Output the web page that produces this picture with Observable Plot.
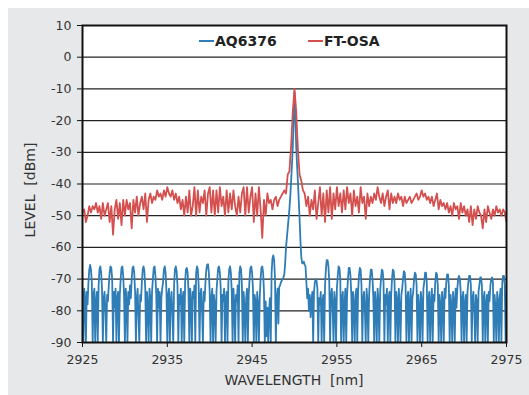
<!DOCTYPE html>
<html>
<head>
<meta charset="utf-8">
<script src="https://cdn.jsdelivr.net/npm/d3@7"></script>
<script src="https://cdn.jsdelivr.net/npm/@observablehq/plot@0.6"></script>
<style>
  html, body { margin: 0; padding: 0; background: #ffffff; }
  #wrap { position: relative; width: 529px; height: 395px; overflow: hidden; font-family: "DejaVu Sans", Verdana, sans-serif; }
  #panel { position: absolute; left: 8px; top: 8px; width: 521px; height: 387px; background: #e7e8ea; }
  #chart { position: absolute; left: 0; top: 0; }
  .legend { position: absolute; top: 33px; font-weight: bold; font-size: 14px; color: #222; white-space: nowrap; line-height: 16px; }
  .legend .sw { display: inline-block; width: 15px; height: 0; border-top: 2px solid; vertical-align: middle; margin-right: 1px; position: relative; top: -1px; }
  .ytitle { position: absolute; left: 30px; top: 190px; transform: translate(-50%, -50%) rotate(-90deg); font-size: 14px; color: #333; white-space: pre; }
  .xtitle { position: absolute; left: 294px; top: 380px; transform: translate(-50%, -50%); font-size: 14px; color: #333; white-space: pre; }
</style>
</head>
<body>
<div id="wrap">
  <div id="panel"></div>
  <div id="chart"></div>
  <div class="legend" style="left:199px"><span class="sw" style="border-color:#2f7db6"></span>AQ6376</div>
  <div class="legend" style="left:308px"><span class="sw" style="border-color:#d4504f"></span>FT-OSA</div>
  <div class="ytitle">LEVEL  [dBm]</div>
  <div class="xtitle">WAVELENGTH  [nm]</div>
</div>
<script>
// Series names and colours
const seriesNames = ["AQ6376", "FT-OSA"];
const seriesColors = ["#2f7db6", "#d4504f"];

// Axis ticks
const xTicks = [2925, 2935, 2945, 2955, 2965, 2975];
const yTicks = [-90, -80, -70, -60, -50, -40, -30, -20, -10, 0, 10];
const gridLevels = [-80, -70, -60, -50, -40, -30, -20, -10, 0];

// AQ6376 spectrum: sampled from 2925 nm every 0.1 nm (level in dBm)
const aqStart = 2925, aqStep = 0.1;
const aqLevel = [
  -74, -90, -73, -76, -90, -74, -78, -71, -67, -65.5,
  -67, -71, -90, -75, -73, -90, -77, -74, -90, -72,
  -67, -66, -68, -73, -90, -76, -74, -80, -90, -75,
  -77, -72, -68, -66, -66.5, -70, -90, -74, -79, -73,
  -90, -76, -74, -90, -75, -70, -66.5, -66, -69, -75,
  -90, -73, -77, -90, -74, -78, -72, -76, -70, -66.5,
  -66, -68, -74, -90, -76, -73, -82, -90, -75, -77,
  -71, -67, -66, -67.5, -73, -90, -74, -78, -90, -73,
  -76, -90, -74, -70, -66.5, -66, -69, -75, -90, -73,
  -79, -74, -90, -76, -73, -71, -67, -66, -68, -74,
  -90, -75, -73, -90, -77, -74, -81, -90, -72, -67,
  -66, -67.5, -72, -90, -75, -78, -73, -90, -76, -74,
  -90, -71, -67, -66.5, -68, -74, -90, -73, -77, -90,
  -74, -76, -72, -90, -68, -66, -67, -72, -90, -75,
  -73, -80, -90, -74, -77, -71, -67, -65.5, -65.3, -68,
  -74, -90, -76, -73, -90, -75, -78, -90, -74, -70,
  -66.5, -66, -68, -73, -90, -75, -77, -73, -90, -76,
  -74, -90, -71, -67, -66, -68, -74, -90, -73, -78,
  -90, -75, -77, -72, -90, -68, -66, -67, -72, -90,
  -74, -79, -90, -76, -73, -90, -75, -70, -66.5, -66,
  -68, -73, -90, -75, -77, -90, -74, -78, -90, -76,
  -70, -66.5, -66, -68, -74, -90, -77, -88, -79, -90,
  -80, -76, -90, -68, -63.5, -62.5, -64, -70, -90, -76,
  -73, -84, -72.5, -72, -71, -70.5, -70, -69.5, -68.5, -65,
  -60, -57, -54, -51, -48, -44, -39, -34, -28, -20,
  -11, -19, -28, -34, -39, -45, -51, -58, -63, -65,
  -65, -64.5, -65.5, -66, -71, -76, -73, -80, -75, -82,
  -77, -74, -90, -74, -71, -70, -70.5, -73, -90, -76,
  -78, -74, -90, -77, -75, -90, -72, -67, -64, -64,
  -66, -71, -90, -75, -73, -79, -90, -74, -77, -90,
  -73, -69, -66, -66.5, -70, -90, -76, -74, -90, -78,
  -73, -90, -75, -70, -66.5, -66.5, -69, -75, -90, -74,
  -78, -90, -75, -73, -90, -74, -69, -66.5, -67, -72,
  -90, -76, -74, -80, -90, -73, -77, -90, -75, -70,
  -67, -67, -70, -76, -90, -74, -78, -90, -73, -77,
  -90, -74, -70, -67, -67.5, -71, -90, -75, -78, -73,
  -90, -76, -74, -90, -75, -70, -67, -67.5, -71, -90,
  -74, -77, -90, -73, -79, -90, -75, -73, -70, -67.5,
  -68, -72, -90, -76, -74, -90, -78, -73, -90, -76,
  -74, -70, -68, -68.5, -72, -90, -75, -79, -90, -74,
  -77, -90, -73, -71, -68, -68, -71, -90, -76, -74,
  -90, -78, -73, -90, -75, -77, -71, -68, -68.5, -72,
  -90, -75, -78, -90, -74, -77, -90, -73, -76, -71,
  -68.5, -68.5, -72, -90, -75, -78, -90, -74, -77, -90,
  -73, -79, -73, -70, -69, -70, -74, -90, -76, -74,
  -90, -78, -75, -90, -74, -71, -69, -69, -72, -90,
  -76, -74, -80, -90, -75, -77, -90, -74, -72, -69.5,
  -69.5, -72, -90, -76, -74, -90, -78, -75, -90, -74,
  -77, -72, -70, -69.5, -71, -90, -75, -79, -90, -74,
  -77, -90, -76, -73, -90, -71, -69, -69, -72, -90,
  -75
];

// FT-OSA spectrum: sampled from 2925 nm every 0.2 nm (level in dBm)
const ftStart = 2925, ftStep = 0.2;
const ftLevel = [
  -49, -48, -52, -50, -47,
  -49, -47, -48, -46, -49,
  -47, -51, -46, -50, -48,
  -46, -52, -47, -56, -48,
  -45, -51, -46, -53, -45,
  -50, -45, -48, -46, -54,
  -45, -49, -44, -50, -46,
  -44, -48, -43, -52, -45,
  -43, -46, -44, -45, -42,
  -44, -43, -45, -42, -44,
  -41, -43, -44, -42, -45,
  -43, -46, -44, -48, -45,
  -50, -44, -49, -42, -50,
  -47, -41, -50, -42, -49,
  -44, -46, -42, -50, -43,
  -41, -49, -42, -50, -42,
  -49, -41, -47, -44, -50,
  -42, -49, -43, -48, -42,
  -47, -50, -44, -49, -43,
  -41, -50, -41, -49, -44,
  -41, -52, -43, -50, -41,
  -48, -57, -45, -50, -43,
  -46, -45, -48, -45, -44,
  -47, -45, -44, -43, -42,
  -43, -37, -36, -28, -17,
  -10, -17, -29, -37, -39,
  -42, -43, -47, -44, -50,
  -45, -48, -42, -51, -46,
  -41, -50, -43, -52, -42,
  -49, -41, -51, -43, -48,
  -41, -47, -43, -49, -42,
  -48, -41, -46, -43, -50,
  -42, -47, -44, -49, -41,
  -46, -44, -51, -43, -47,
  -44, -46, -43, -45, -41,
  -44, -46, -43, -47, -44,
  -42, -48, -43, -46, -44,
  -46, -43, -45, -44, -47,
  -44, -46, -45, -44, -46,
  -45, -44, -43, -45, -44,
  -42, -44, -43, -45, -44,
  -46, -44, -47, -45, -43,
  -48, -45, -47, -46, -48,
  -46, -49, -47, -50, -46,
  -48, -47, -51, -46, -49,
  -47, -50, -48, -52, -47,
  -53, -48, -51, -47, -49,
  -50, -54, -48, -52, -47,
  -49, -51, -48, -50, -47,
  -49, -48, -50, -48, -49,
  -52
];

const aqData = aqLevel.map((v, i) => ({wl: aqStart + i * aqStep, level: v}));
const ftData = ftLevel.map((v, i) => ({wl: ftStart + i * ftStep, level: v}));

const chart = Plot.plot({
  width: 529,
  height: 395,
  marginLeft: 82,
  marginRight: 23,
  marginTop: 25,
  marginBottom: 53,
  style: {background: "transparent", fontFamily: "DejaVu Sans, Verdana, sans-serif", fontSize: "12.5px", color: "#333"},
  x: {domain: [2925, 2975]},
  y: {domain: [-90, 10]},
  marks: [
    Plot.frame({fill: "white", stroke: "none"}),
    Plot.ruleY(gridLevels, {stroke: "#222", strokeWidth: 1.2}),
    Plot.line(aqData, {x: "wl", y: "level", stroke: seriesColors[0], strokeWidth: 1.8, clip: true}),
    Plot.line(ftData, {x: "wl", y: "level", stroke: seriesColors[1], strokeWidth: 1.8, clip: true}),
    Plot.frame({stroke: "#111", strokeWidth: 2}),
    Plot.axisX({ticks: xTicks, tickSize: 5, tickPadding: 8, label: null, stroke: "#111", tickFormat: d => String(d)}),
    Plot.axisY({ticks: yTicks, tickSize: 5, tickPadding: 6, label: null, stroke: "#111", tickFormat: d => String(d)})
  ]
});
document.getElementById("chart").appendChild(chart);
</script>
</body>
</html>
